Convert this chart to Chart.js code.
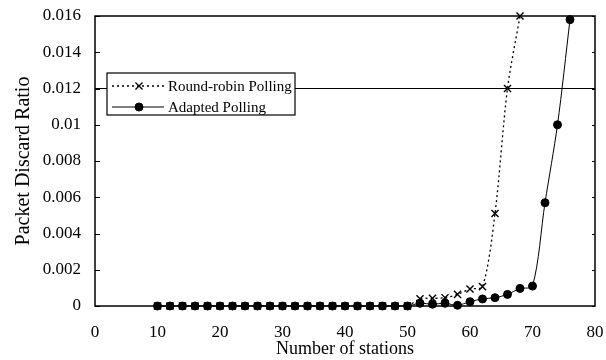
<!DOCTYPE html>
<html>
<head>
<meta charset="utf-8">
<script src="https://cdn.jsdelivr.net/npm/chart.js@4.4.0/dist/chart.umd.min.js"></script>
<style>
  html, body { margin: 0; padding: 0; background: #fff; }
  #wrap { width: 606px; height: 360px; }
</style>
</head>
<body>
<div id="wrap"><canvas id="chart" width="606" height="360"></canvas></div>
<script>
// stations (x) and discard ratio per scheme
const rrStations = [10,12,14,16,18,20,22,24,26,28,30,32,34,36,38,40,42,44,46,48,50,52,54,56,58,60,62,64,66,68];
const rrRatio    = [0,0,0,0,0,0,0,0,0,0,0,0,0,0,0,0,0,0,0,0,0,0.0004,0.00042,0.00046,0.00064,0.00094,0.00107,0.0051,0.012,0.016];
const apStations = [10,12,14,16,18,20,22,24,26,28,30,32,34,36,38,40,42,44,46,48,50,52,54,56,58,60,62,64,66,68,70,72,74,76];
const apRatio    = [0,0,0,0,0,0,0,0,0,0,0,0,0,0,0,0,0,0,0,0,0,0.00015,0.0001,0.00015,0.00004,0.00024,0.00039,0.00046,0.00064,0.00097,0.0011,0.0057,0.01,0.0158];
const seriesNames = ['Round-robin Polling', 'Adapted Polling'];
const yTicks = [0, 0.002, 0.004, 0.006, 0.008, 0.01, 0.012, 0.014, 0.016];
const xTicks = [0, 10, 20, 30, 40, 50, 60, 70, 80];

const FONT = '"Liberation Serif", "Times New Roman", serif';

const toPoints = (xs, ys) => xs.map((x, i) => ({ x: x, y: ys[i] }));

// box, inward tick marks and the legend, drawn like the original figure
const framePlugin = {
  id: 'frame',
  afterDatasetsDraw(chart) {
    const { ctx, chartArea: a, scales } = chart;
    ctx.save();
    ctx.strokeStyle = '#000';
    ctx.lineWidth = 1.5;
    ctx.strokeRect(a.left, a.top, a.right - a.left, a.bottom - a.top);
    ctx.lineWidth = 1;
    yTicks.forEach(v => {
      const y = Math.round(scales.y.getPixelForValue(v)) + 0.5;
      ctx.beginPath();
      ctx.moveTo(a.left, y);
      ctx.lineTo(a.left + 5, y);
      ctx.moveTo(a.right, y);
      ctx.lineTo(a.right - 3, y);
      ctx.stroke();
    });

    // legend box
    const bx = 107, by = 73, bw = 188, bh = 42;
    ctx.fillStyle = '#fff';
    ctx.fillRect(bx, by, bw, bh);
    ctx.lineWidth = 1.2;
    ctx.strokeRect(bx, by, bw, bh);
    const rows = [by + 13, by + 34];
    chart.data.datasets.forEach((ds, i) => {
      const y = rows[i];
      ctx.strokeStyle = '#000';
      ctx.lineWidth = ds.borderWidth;
      ctx.setLineDash(ds.borderDash || []);
      ctx.beginPath();
      ctx.moveTo(bx + 5, y);
      ctx.lineTo(bx + 57, y);
      ctx.stroke();
      ctx.setLineDash([]);
      Chart.helpers.drawPoint(ctx, {
        pointStyle: ds.pointStyle, radius: ds.pointRadius, borderWidth: 1.3
      }, bx + 32, y);
      ctx.fillStyle = '#000';
      ctx.font = '15px ' + FONT;
      ctx.textBaseline = 'middle';
      ctx.textAlign = 'left';
      ctx.fillText(ds.label, bx + 61, y + 1);
    });
    ctx.restore();
  }
};

const ctx = document.getElementById('chart').getContext('2d');
new Chart(ctx, {
  type: 'scatter',
  data: {
    datasets: [{
      label: seriesNames[0],
      data: toPoints(rrStations, rrRatio),
      showLine: true,
      borderColor: '#000',
      backgroundColor: '#000',
      borderWidth: 1.3,
      borderDash: [2, 3],
      pointStyle: 'crossRot',
      pointRadius: 5,
      pointBorderWidth: 1.4,
      tension: 0.3,
      clip: false
    }, {
      label: seriesNames[1],
      data: toPoints(apStations, apRatio),
      showLine: true,
      borderColor: '#000',
      backgroundColor: '#000',
      borderWidth: 1,
      pointStyle: 'circle',
      pointRadius: 4,
      pointBorderWidth: 1,
      tension: 0.3,
      clip: false
    }]
  },
  options: {
    responsive: false,
    animation: false,
    layout: { autoPadding: false, padding: { top: 16, right: 11, left: 12, bottom: 0 } },
    plugins: { legend: { display: false }, tooltip: { enabled: false } },
    scales: {
      x: {
        type: 'linear',
        min: 0, max: 80,
        afterBuildTicks: s => { s.ticks = xTicks.map(v => ({ value: v })); },
        afterFit: s => { s.height = 54; s.paddingLeft = 0; s.paddingRight = 0; },
        grid: { display: false },
        border: { display: false },
        ticks: { color: '#000', font: { family: FONT, size: 17 }, padding: 8 },
        title: { display: true, text: 'Number of stations', color: '#000', font: { family: FONT, size: 18 }, padding: { top: 2, bottom: 0 } }
      },
      y: {
        min: 0, max: 0.016,
        afterBuildTicks: s => { s.ticks = yTicks.map(v => ({ value: v })); },
        afterFit: s => { s.width = 83; s.paddingTop = 0; s.paddingBottom = 0; },
        grid: {
          drawTicks: false,
          color: c => (c.tick && Math.abs(c.tick.value - 0.012) < 1e-9) ? '#000' : 'rgba(0,0,0,0)',
          lineWidth: 1
        },
        border: { display: false },
        ticks: {
          color: '#000', font: { family: FONT, size: 17 }, padding: 14,
          callback: v => String(Number(v.toFixed(3)))
        },
        title: { display: true, text: 'Packet Discard Ratio', color: '#000', font: { family: FONT, size: 20 }, padding: { top: 0, bottom: 2 } }
      }
    }
  },
  plugins: [framePlugin]
});
</script>
</body>
</html>
